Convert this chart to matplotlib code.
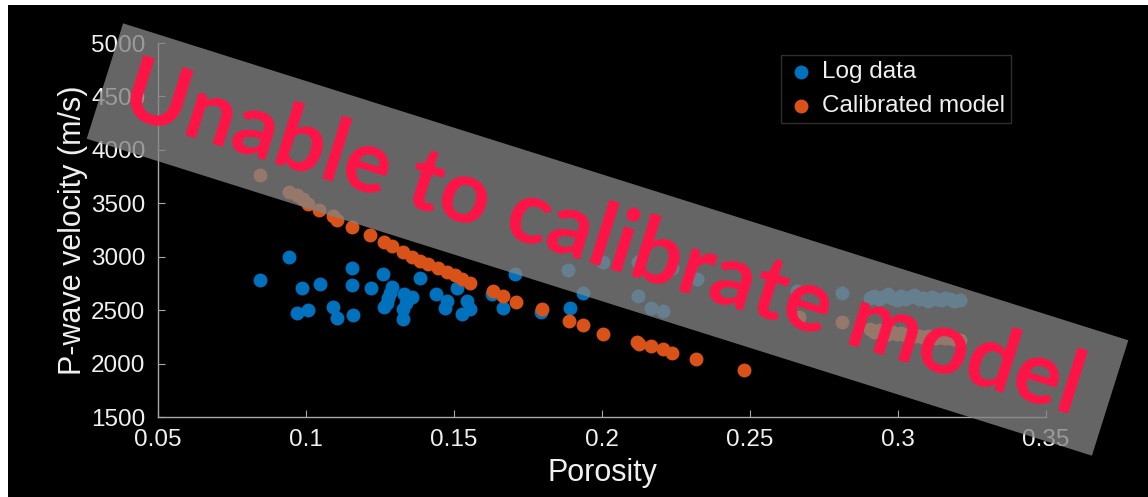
import matplotlib
matplotlib.use("Agg")
import matplotlib.pyplot as plt
from matplotlib.patches import Rectangle
from matplotlib.transforms import Affine2D

# ---------------- data ----------------
log_porosity = [0.0845, 0.0944, 0.0985, 0.1047, 0.0969, 0.1008, 0.1090, 0.1104, 0.1154, 0.1156,
                0.1160, 0.1220, 0.1261, 0.1290, 0.1284, 0.1278, 0.1273, 0.1264, 0.1332, 0.1357,
                0.1338, 0.1329, 0.1327, 0.1385, 0.1439, 0.1475, 0.1470, 0.1509, 0.1543, 0.1554,
                0.1526, 0.1627, 0.1664, 0.1706, 0.1793, 0.1886, 0.1935, 0.1892, 0.2002, 0.2123,
                0.2123, 0.2167, 0.2205, 0.2235, 0.2320, 0.2658, 0.2810,
                0.2905, 0.2920, 0.2935, 0.2950, 0.2965, 0.2980, 0.2995, 0.3010, 0.3025, 0.3040,
                0.3055, 0.3070, 0.3085, 0.3100, 0.3115, 0.3130, 0.3145, 0.3160, 0.3175, 0.3190,
                0.3210]
log_vp = [2782, 2999, 2711, 2749, 2469, 2500, 2532, 2425, 2892, 2735,
          2450, 2711, 2836, 2720, 2664, 2617, 2570, 2528, 2648, 2626,
          2570, 2507, 2413, 2798, 2648, 2585, 2523, 2711, 2585, 2507,
          2460, 2648, 2516, 2836, 2481, 2876, 2657, 2523, 2946, 2946,
          2632, 2523, 2491, 2899, 2789, 2675, 2657,
          2610, 2635, 2600, 2625, 2650, 2615, 2595, 2630, 2605, 2620,
          2640, 2600, 2615, 2590, 2625, 2605, 2595, 2615, 2600, 2590,
          2595]

model_porosity = [0.0845, 0.0944, 0.0969, 0.0991, 0.1008, 0.1045, 0.1092, 0.1104, 0.1154, 0.1216,
                  0.1264, 0.1290, 0.1329, 0.1357, 0.1385, 0.1413, 0.1447, 0.1475, 0.1503, 0.1526,
                  0.1554, 0.1633, 0.1667, 0.1708, 0.1796, 0.1889, 0.1935, 0.2004, 0.2118, 0.2125,
                  0.2167, 0.2205, 0.2235, 0.2318, 0.2480, 0.2665, 0.2810,
                  0.2905, 0.2920, 0.2935, 0.2950, 0.2965, 0.2980, 0.2995, 0.3010, 0.3025, 0.3040,
                  0.3055, 0.3070, 0.3085, 0.3100, 0.3115, 0.3130, 0.3145, 0.3160, 0.3175, 0.3190,
                  0.3210]
model_vp = [3761, 3605, 3573, 3542, 3495, 3441, 3385, 3347, 3275, 3203,
            3140, 3096, 3040, 2999, 2961, 2930, 2890, 2861, 2827, 2795,
            2758, 2679, 2632, 2575, 2507, 2397, 2359, 2278, 2205, 2187,
            2161, 2137, 2099, 2043, 1942, 2440, 2387,
            2325, 2300, 2315, 2290, 2280, 2300, 2275, 2285, 2265, 2270,
            2255, 2260, 2250, 2262, 2245, 2240, 2250, 2235, 2238, 2228,
            2225]

x_ticks = [0.05, 0.10, 0.15, 0.20, 0.25, 0.30, 0.35]
x_tick_labels = ["0.05", "0.1", "0.15", "0.2", "0.25", "0.3", "0.35"]
y_ticks = [1500, 2000, 2500, 3000, 3500, 4000, 4500, 5000]
series_labels = ["Log data", "Calibrated model"]
banner_text = "Unable to calibrate model"

# ---------------- figure ----------------
W, H = 1148, 497
plt.rcParams['font.family'] = ['Liberation Sans', 'DejaVu Sans']
fig = plt.figure(figsize=(W / 100, H / 100), dpi=100, facecolor='white')

# black canvas with a thin white margin at top/left
fig.patches.append(Rectangle((8 / W, 0), (W - 8) / W, (H - 5) / H,
                             transform=fig.transFigure, facecolor='black',
                             edgecolor='none', zorder=-10))

ax = fig.add_axes([158 / W, (H - 417) / H, (1046 - 158) / W, (417 - 43) / H])
ax.set_facecolor('none')

blue = '#0072BD'
orange = '#D95319'
ax.scatter(log_porosity, log_vp, s=100, color=blue, linewidths=0, label=series_labels[0], zorder=3)
ax.scatter(model_porosity, model_vp, s=100, color=orange, linewidths=0, label=series_labels[1], zorder=3)

ax.set_xlim(0.05, 0.35)
ax.set_ylim(1500, 5000)
ax.set_xticks(x_ticks)
ax.set_xticklabels(x_tick_labels)
ax.set_yticks(y_ticks)

spine_col = '#A8A8A8'
text_col = '#F0F0F0'
for s in ['top', 'right']:
    ax.spines[s].set_visible(False)
for s in ['left', 'bottom']:
    ax.spines[s].set_color(spine_col)
    ax.spines[s].set_linewidth(1.0)
ax.tick_params(direction='in', length=5, width=0.8, color=spine_col,
               labelcolor=text_col, labelsize=17.5, pad=9)

ax.set_xlabel('Porosity', fontsize=22, color=text_col, labelpad=5)
ax.set_ylabel('P-wave velocity (m/s)', fontsize=22, color=text_col, labelpad=2)

leg = ax.legend(loc='upper left', bbox_to_anchor=(780.7 / W, 1 - 55 / H),
                bbox_transform=fig.transFigure, borderaxespad=0,
                fontsize=17.5, frameon=True, fancybox=False,
                facecolor='black', edgecolor='#3A3A3A', labelcolor=text_col,
                handletextpad=0.25, handlelength=1.2, borderpad=0.25, labelspacing=0.5,
                markerscale=1.0)
leg.get_frame().set_linewidth(1.0)

# ---------------- warning banner ----------------
cx, cy = 607.5, 239.5          # centre in image pixels (top origin)
band_len, band_w, angle = 1054, 121, -17.5
banner = Rectangle((-band_len / 2, -band_w / 2), band_len, band_w,
                   transform=Affine2D().rotate_deg(angle).translate(cx, H - cy),
                   facecolor=(131 / 255, 131 / 255, 131 / 255), alpha=0.78,
                   edgecolor='none', zorder=5)
fig.patches.append(banner)
fig.text(cx / W - 0.004, 1 - cy / H, banner_text, rotation=angle, rotation_mode='anchor',
         ha='center', va='center', fontsize=63, color='#FF1446',
         family=['Lato', 'DejaVu Sans'], weight='bold', zorder=6)

fig.savefig('out.png', dpi=100, facecolor='white')
